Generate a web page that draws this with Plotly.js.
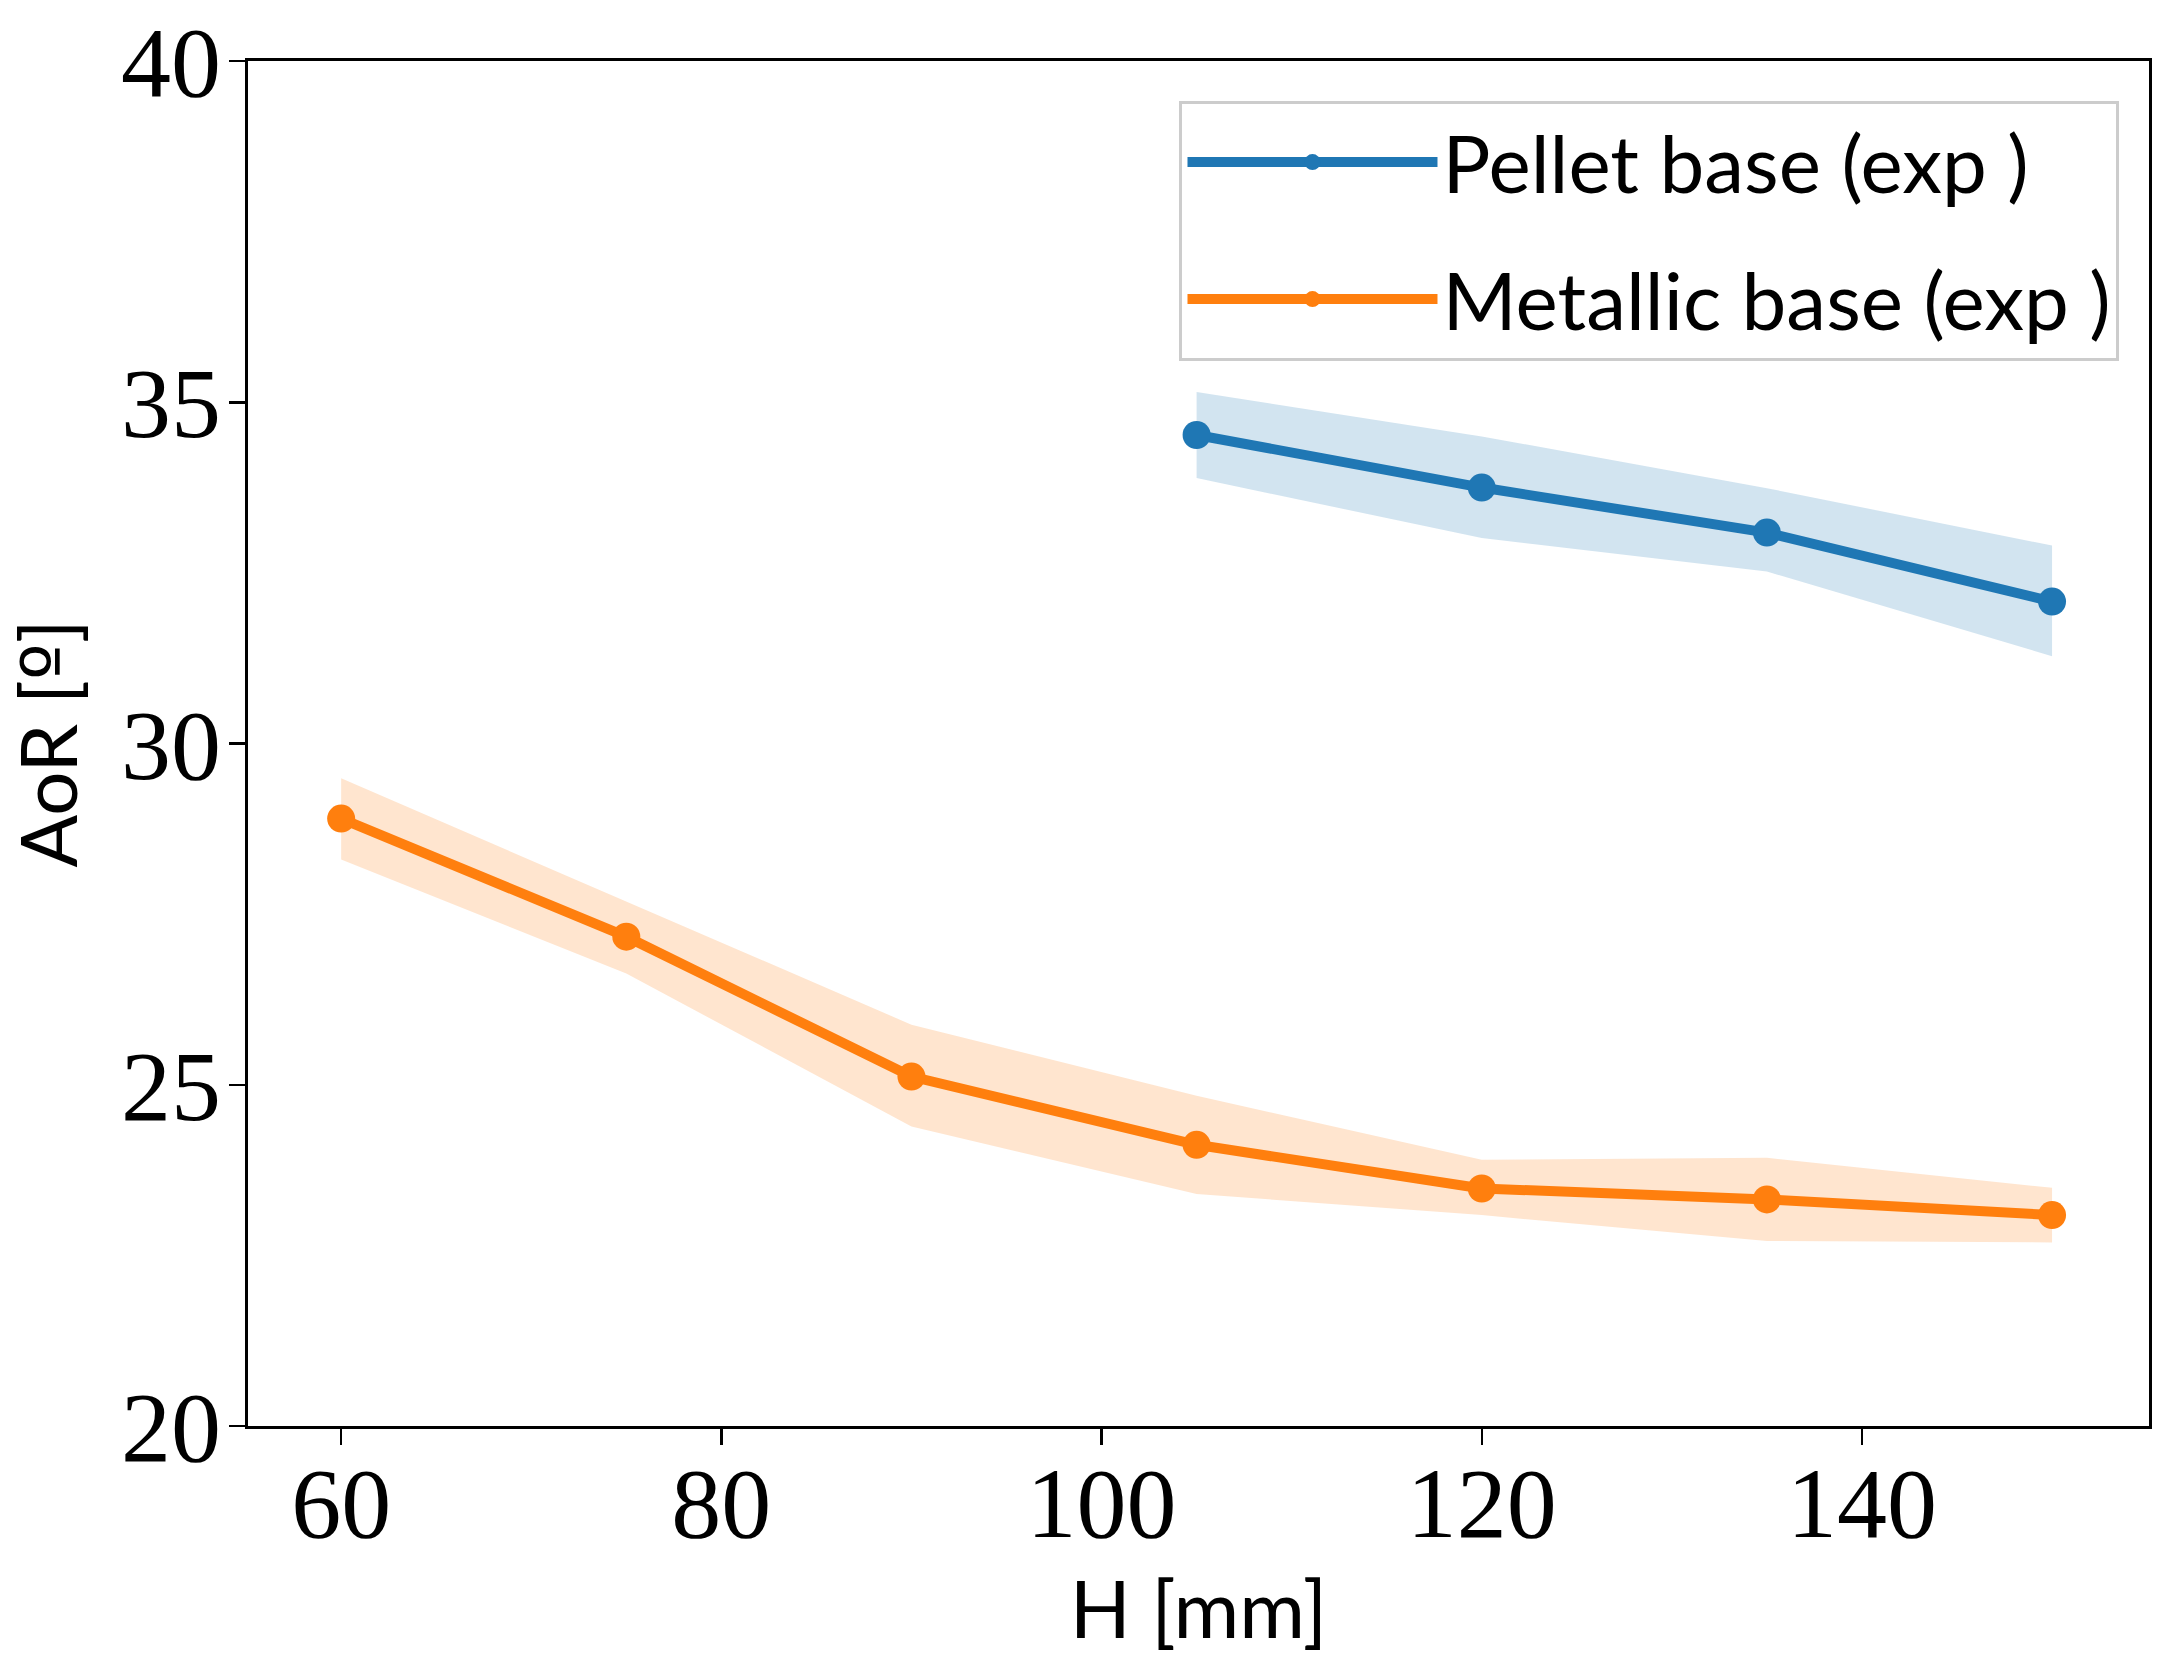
<!DOCTYPE html>
<html>
<head>
<meta charset="utf-8">
<script src="https://cdn.plot.ly/plotly-3.0.1.min.js"></script>
<style>
  body { margin: 0; background: #fff; }
  #chart { width: 2166px; height: 1665px; }
</style>
</head>
<body>
<div id="chart"></div>
<script>
// heights H [mm]
var hMetal = [60, 75, 90, 105, 120, 135, 150]
var hPellet = [105, 120, 135, 150]

// angle of repose, mean and band edges
var aorMetal = [28.90, 27.17, 25.12, 24.12, 23.48, 23.32, 23.09]
var aorMetalHi = [29.49, 27.69, 25.88, 24.84, 23.90, 23.93, 23.49]
var aorMetalLo = [28.30, 26.63, 24.39, 23.40, 23.09, 22.71, 22.69]

var aorPellet = [34.52, 33.75, 33.09, 32.08]
var aorPelletHi = [35.15, 34.50, 33.74, 32.90]
var aorPelletLo = [33.89, 33.01, 32.52, 31.28]

var xTicks = [60, 80, 100, 120, 140]
var yTicks = [20, 25, 30, 35, 40]

var BLUE = "#1f77b4"
var ORANGE = "#ff7f0e"
var SANS = "Lato, 'Liberation Sans', sans-serif"
var SERIF = "'Liberation Serif', 'DejaVu Serif', serif"

function band(x, lo, hi, fillColor) {
    return [{
        x: x, y: lo,
        type: "scatter", mode: "lines",
        line: { width: 0, color: fillColor },
        showlegend: false, hoverinfo: "skip",
    }, {
        x: x, y: hi,
        type: "scatter", mode: "lines",
        line: { width: 0, color: fillColor },
        fill: "tonexty", fillcolor: fillColor,
        showlegend: false, hoverinfo: "skip",
    }]
}

var traces = []
    .concat(band(hPellet, aorPelletLo, aorPelletHi, "rgba(31,119,180,0.2)"))
    .concat(band(hMetal, aorMetalLo, aorMetalHi, "rgba(255,127,14,0.2)"))
    .concat([{
        x: hPellet, y: aorPellet,
        type: "scatter", mode: "lines+markers",
        name: "Pellet base (exp )",
        legendgroup: "pellet",
        line: { color: BLUE, width: 10 },
        marker: { color: BLUE, size: 28 },
    }, {
        x: hMetal, y: aorMetal,
        type: "scatter", mode: "lines+markers",
        name: "Metallic base (exp )",
        legendgroup: "metal",
        line: { color: ORANGE, width: 10 },
        marker: { color: ORANGE, size: 28 },
    }])

var axisCommon = {
    showgrid: false,
    zeroline: false,
    showline: true,
    mirror: true,
    linecolor: "#000",
    linewidth: 3,
    ticks: "outside",
    ticklen: 16,
    tickwidth: 2.5,
    tickcolor: "#000",
    tickfont: { family: SERIF, size: 100, color: "#000" },
}

Plotly.newPlot(
    document.getElementById("chart"),
    traces,
    {
        width: 2166,
        height: 1665,
        paper_bgcolor: "#fff",
        plot_bgcolor: "#fff",
        margin: { l: 248, r: 17, t: 61, b: 239 },
        showlegend: true,
        legend: {
            x: 0.49,
            y: 0.971,
            xanchor: "left",
            yanchor: "top",
            traceorder: "grouped",
            tracegroupgap: 30,
            bgcolor: "rgba(255,255,255,0.8)",
            bordercolor: "#cccccc",
            borderwidth: 3,
            font: { family: SANS, size: 80, color: "#000" },
            itemwidth: 250,
        },
        xaxis: Object.assign({}, axisCommon, {
            range: [55.1, 155.1],
            tickvals: xTicks,
            ticktext: xTicks.map(String),
            ticklabelstandoff: -28,
            title: { text: "H [mm]", font: { family: SANS, size: 80, color: "#000" }, standoff: 0 },
        }),
        yaxis: Object.assign({}, axisCommon, {
            range: [20, 40],
            tickvals: yTicks,
            ticktext: yTicks.map(String),
            ticklabelstandoff: -12,
            title: {
                text: "AoR [<span style=\"font-family:'DejaVu Sans'\">º</span>]",
                font: { family: SANS, size: 78, color: "#000" },
                standoff: 18,
            },
        }),
    },
    { staticPlot: true }
)
</script>
</body>
</html>
